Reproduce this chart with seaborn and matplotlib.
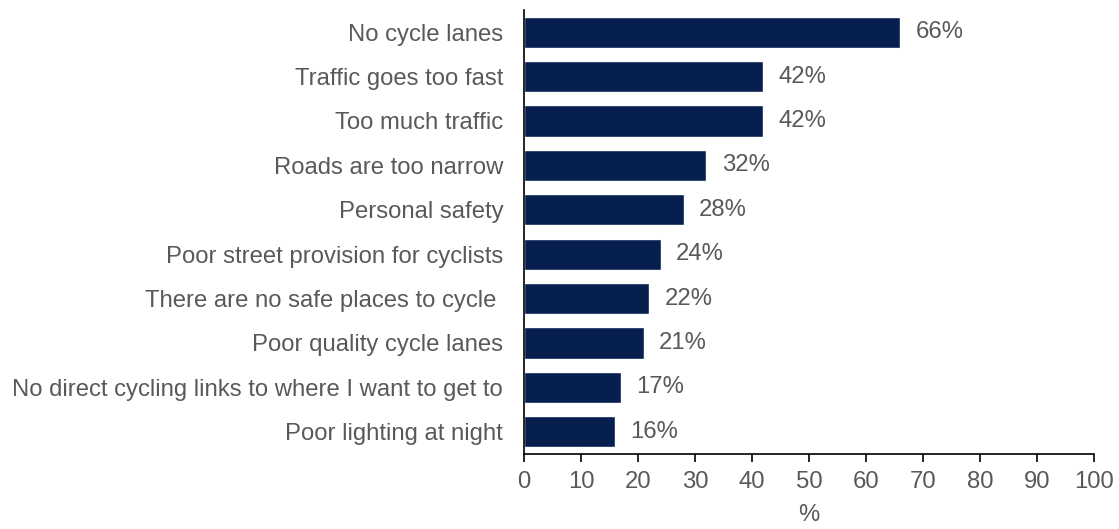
import matplotlib
matplotlib.use("Agg")
import matplotlib.pyplot as plt
import seaborn as sns
import pandas as pd

# Reasons given for not cycling, share of respondents (%)
reasons = [
    "No cycle lanes",
    "Traffic goes too fast",
    "Too much traffic",
    "Roads are too narrow",
    "Personal safety",
    "Poor street provision for cyclists",
    "There are no safe places to cycle ",
    "Poor quality cycle lanes",
    "No direct cycling links to where I want to get to",
    "Poor lighting at night",
]
shares = [66, 42, 42, 32, 28, 24, 22, 21, 17, 16]
x_ticks = [0, 10, 20, 30, 40, 50, 60, 70, 80, 90, 100]
x_label = "%"

df = pd.DataFrame({"reason": reasons, "share": shares})

sns.set_theme(style="white")
plt.rcParams["font.family"] = ["Liberation Sans", "DejaVu Sans"]

text_color = "#595959"
bar_color = "#071F4F"
fs = 17.2

fig = plt.figure(figsize=(11.19, 5.29), dpi=100)
ax = fig.add_axes([0.4683, 0.1418, 0.5094, 0.8393])

sns.barplot(data=df, x="share", y="reason", color=bar_color, saturation=1,
            width=0.70, ax=ax, orient="h")

for i, v in enumerate(shares):
    ax.annotate(f"{v}%", xy=(v, i), xytext=(11, 0), textcoords="offset points",
                va="center", ha="left", fontsize=fs, color=text_color)

ax.set_xlim(0, 100)
ax.set_ylim(9.5, -0.5)
ax.set_xticks(x_ticks)
ax.set_xticklabels([str(t) for t in x_ticks])
ax.set_xlabel(x_label, fontsize=fs, color=text_color, labelpad=8)
ax.set_ylabel("")

for side in ["top", "right"]:
    ax.spines[side].set_visible(False)
for side in ["left", "bottom"]:
    ax.spines[side].set_color("black")
    ax.spines[side].set_linewidth(1.2)

ax.tick_params(axis="x", which="major", bottom=True, direction="out", length=6,
               width=1.2, color="black", labelsize=fs, labelcolor=text_color, pad=6)
ax.tick_params(axis="y", left=False, labelsize=fs, labelcolor=text_color, pad=9)

fig.savefig("out.png", dpi=100)
